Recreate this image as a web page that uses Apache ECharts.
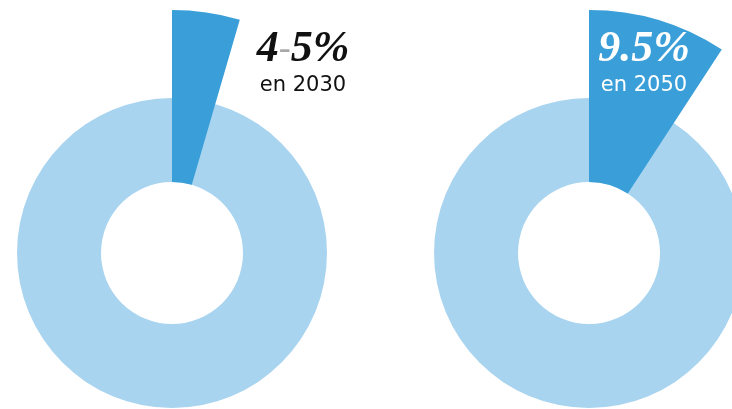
<!DOCTYPE html>
<html><head><meta charset="utf-8">
<script src="https://cdn.jsdelivr.net/npm/echarts@6/dist/echarts.min.js"></script>
<style>html,body{margin:0;padding:0;background:#fff}#c{width:732px;height:409px}</style>
</head><body><div id="c"></div>
<script>
// Data
const years = ['2030', '2050'];
const shareLabels = ['4-5%', '9.5%'];
const shareValues = [4.5, 9.2];   // slice size as drawn (percent of circle)
const subLabels = ['en 2030', 'en 2050'];

const centers = [[172, 253], [589, 253]];
const dark = '#3a9fd8', light = '#a9d4ef';

const series = [];
years.forEach((y, i) => {
  series.push({
    type: 'pie', silent: true, center: centers[i], radius: [71, 155],
    startAngle: 90, label: {show: false}, labelLine: {show: false},
    itemStyle: {color: light}, data: [{value: 100, name: 'total ' + y}], z: 1
  });
  series.push({
    type: 'pie', silent: true, center: centers[i], radius: [71, 243],
    startAngle: 90, clockwise: true, label: {show: false}, labelLine: {show: false},
    data: [
      {value: shareValues[i], name: y, itemStyle: {color: dark}},
      {value: 100 - shareValues[i], name: 'rest', itemStyle: {color: 'rgba(0,0,0,0)'}}
    ], z: 2
  });
});

const textX = [303, 644];
const textColors = ['#111', '#fff'];
const graphic = [];
years.forEach((y, i) => {
  const parts = shareLabels[i].split('-');
  const txt = parts.length > 1 ? '{a|' + parts[0] + '}{h|-}{a|' + parts[1] + '}' : '{a|' + shareLabels[i] + '}';
  graphic.push({
    type: 'text', z: 10,
    style: {
      text: txt, x: textX[i], y: 28, textAlign: 'center',
      rich: {
        a: {fontFamily: 'Liberation Serif', fontStyle: 'italic', fontWeight: 'bold', fontSize: 44, fill: textColors[i], lineHeight: 44},
        h: {fontFamily: 'Liberation Serif', fontSize: 36, fill: '#a8a8a8', lineHeight: 44}
      }
    }
  });
  graphic.push({
    type: 'text', z: 10,
    style: {text: subLabels[i], x: textX[i], y: 75, textAlign: 'center',
      fontFamily: 'DejaVu Sans', fontSize: 21, fill: textColors[i]}
  });
});

const chart = echarts.init(document.getElementById('c'), null, {renderer: 'canvas'});
chart.setOption({animation: false, series, graphic});
</script></body></html>
